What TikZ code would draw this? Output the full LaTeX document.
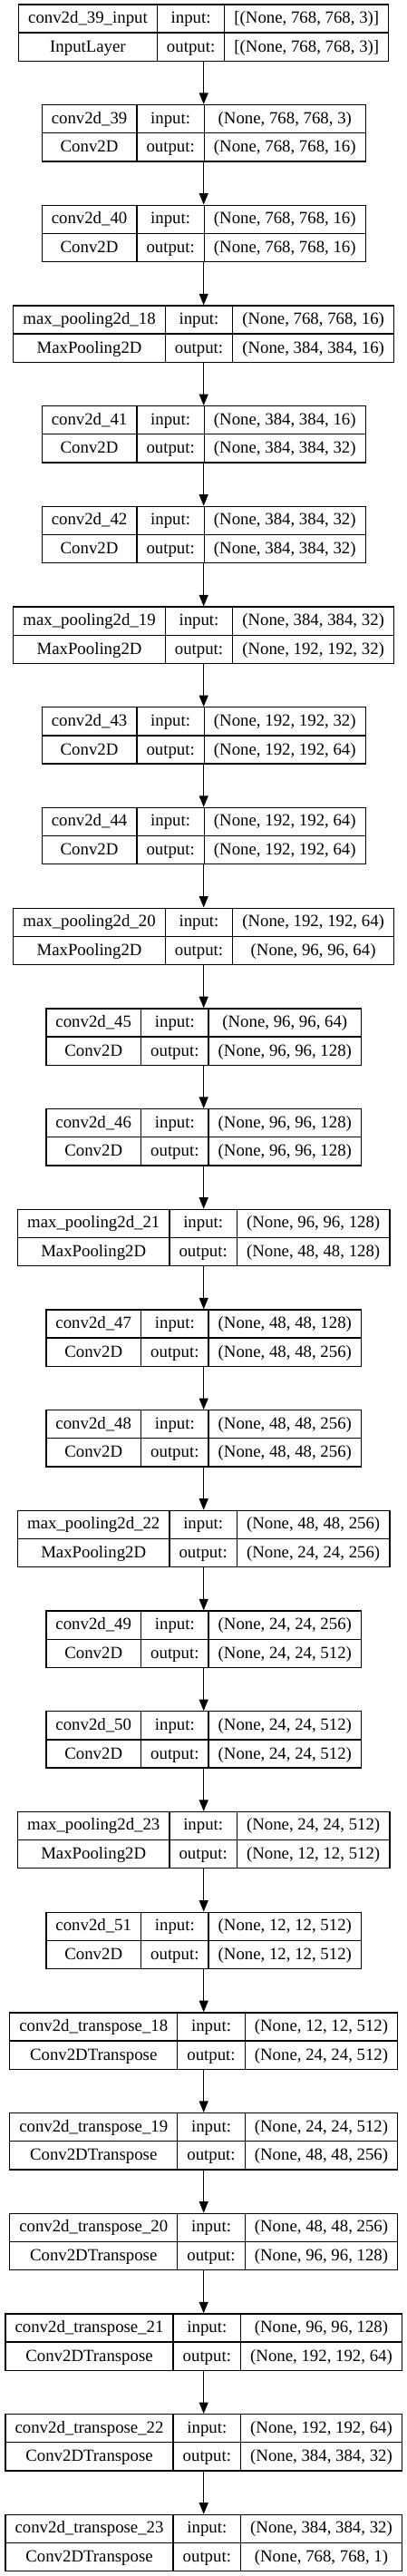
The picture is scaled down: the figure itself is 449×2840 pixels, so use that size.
\documentclass[tikz,border=0pt]{standalone}
\usepackage{fontspec}
\setmainfont{Liberation Serif}
\usetikzlibrary{arrows.meta}

\setlength{\tabcolsep}{10.6pt}
\setlength{\arrayrulewidth}{1.3pt}
\newcommand{\rowstrut}{\rule[-10pt]{0pt}{30.5pt}}
\newcommand{\layerbox}[4]{%
   \begin{tabular}{c|c|c}
      \rowstrut #1 & input: & #3 \\ \hline
      \rowstrut #2 & output: & #4
   \end{tabular}}

\begin{document}
\begin{tikzpicture}
      [x = 1pt, y = 1pt,
      font = \fontsize{18.8}{22}\selectfont,
      layer/.style= {
         draw,
         line width = 1.3pt,
         inner sep = 0pt
      },
      flow/.style= {
         -{Triangle[length = 12.5pt, width = 10pt]},
         line width = 1.3pt
      }]

      \useasboundingbox (0, 0) rectangle (449, -2840);

      \foreach \name/\kind/\shin/\shout [count = \i] in {
         conv2d\_39\_input/InputLayer/{[(None, 768, 768, 3)]}/{[(None, 768, 768, 3)]},
         conv2d\_39/Conv2D/{(None, 768, 768, 3)}/{(None, 768, 768, 16)},
         conv2d\_40/Conv2D/{(None, 768, 768, 16)}/{(None, 768, 768, 16)},
         max\_pooling2d\_18/MaxPooling2D/{(None, 768, 768, 16)}/{(None, 384, 384, 16)},
         conv2d\_41/Conv2D/{(None, 384, 384, 16)}/{(None, 384, 384, 32)},
         conv2d\_42/Conv2D/{(None, 384, 384, 32)}/{(None, 384, 384, 32)},
         max\_pooling2d\_19/MaxPooling2D/{(None, 384, 384, 32)}/{(None, 192, 192, 32)},
         conv2d\_43/Conv2D/{(None, 192, 192, 32)}/{(None, 192, 192, 64)},
         conv2d\_44/Conv2D/{(None, 192, 192, 64)}/{(None, 192, 192, 64)},
         max\_pooling2d\_20/MaxPooling2D/{(None, 192, 192, 64)}/{(None, 96, 96, 64)},
         conv2d\_45/Conv2D/{(None, 96, 96, 64)}/{(None, 96, 96, 128)},
         conv2d\_46/Conv2D/{(None, 96, 96, 128)}/{(None, 96, 96, 128)},
         max\_pooling2d\_21/MaxPooling2D/{(None, 96, 96, 128)}/{(None, 48, 48, 128)},
         conv2d\_47/Conv2D/{(None, 48, 48, 128)}/{(None, 48, 48, 256)},
         conv2d\_48/Conv2D/{(None, 48, 48, 256)}/{(None, 48, 48, 256)},
         max\_pooling2d\_22/MaxPooling2D/{(None, 48, 48, 256)}/{(None, 24, 24, 256)},
         conv2d\_49/Conv2D/{(None, 24, 24, 256)}/{(None, 24, 24, 512)},
         conv2d\_50/Conv2D/{(None, 24, 24, 512)}/{(None, 24, 24, 512)},
         max\_pooling2d\_23/MaxPooling2D/{(None, 24, 24, 512)}/{(None, 12, 12, 512)},
         conv2d\_51/Conv2D/{(None, 12, 12, 512)}/{(None, 12, 12, 512)},
         conv2d\_transpose\_18/Conv2DTranspose/{(None, 12, 12, 512)}/{(None, 24, 24, 512)},
         conv2d\_transpose\_19/Conv2DTranspose/{(None, 24, 24, 512)}/{(None, 48, 48, 256)},
         conv2d\_transpose\_20/Conv2DTranspose/{(None, 48, 48, 256)}/{(None, 96, 96, 128)},
         conv2d\_transpose\_21/Conv2DTranspose/{(None, 96, 96, 128)}/{(None, 192, 192, 64)},
         conv2d\_transpose\_22/Conv2DTranspose/{(None, 192, 192, 64)}/{(None, 384, 384, 32)},
         conv2d\_transpose\_23/Conv2DTranspose/{(None, 384, 384, 32)}/{(None, 768, 768, 1)}}
         \node[layer] (l\i) at (224.7, {-36 - (\i - 1) * 110.7})
            {\layerbox{\name}{\kind}{\shin}{\shout}};

      \foreach \i [evaluate = \i as \j using int(\i + 1)] in {1, ..., 25}
         \draw[flow] (l\i) -- (l\j);

   \end{tikzpicture}
\end{document}
